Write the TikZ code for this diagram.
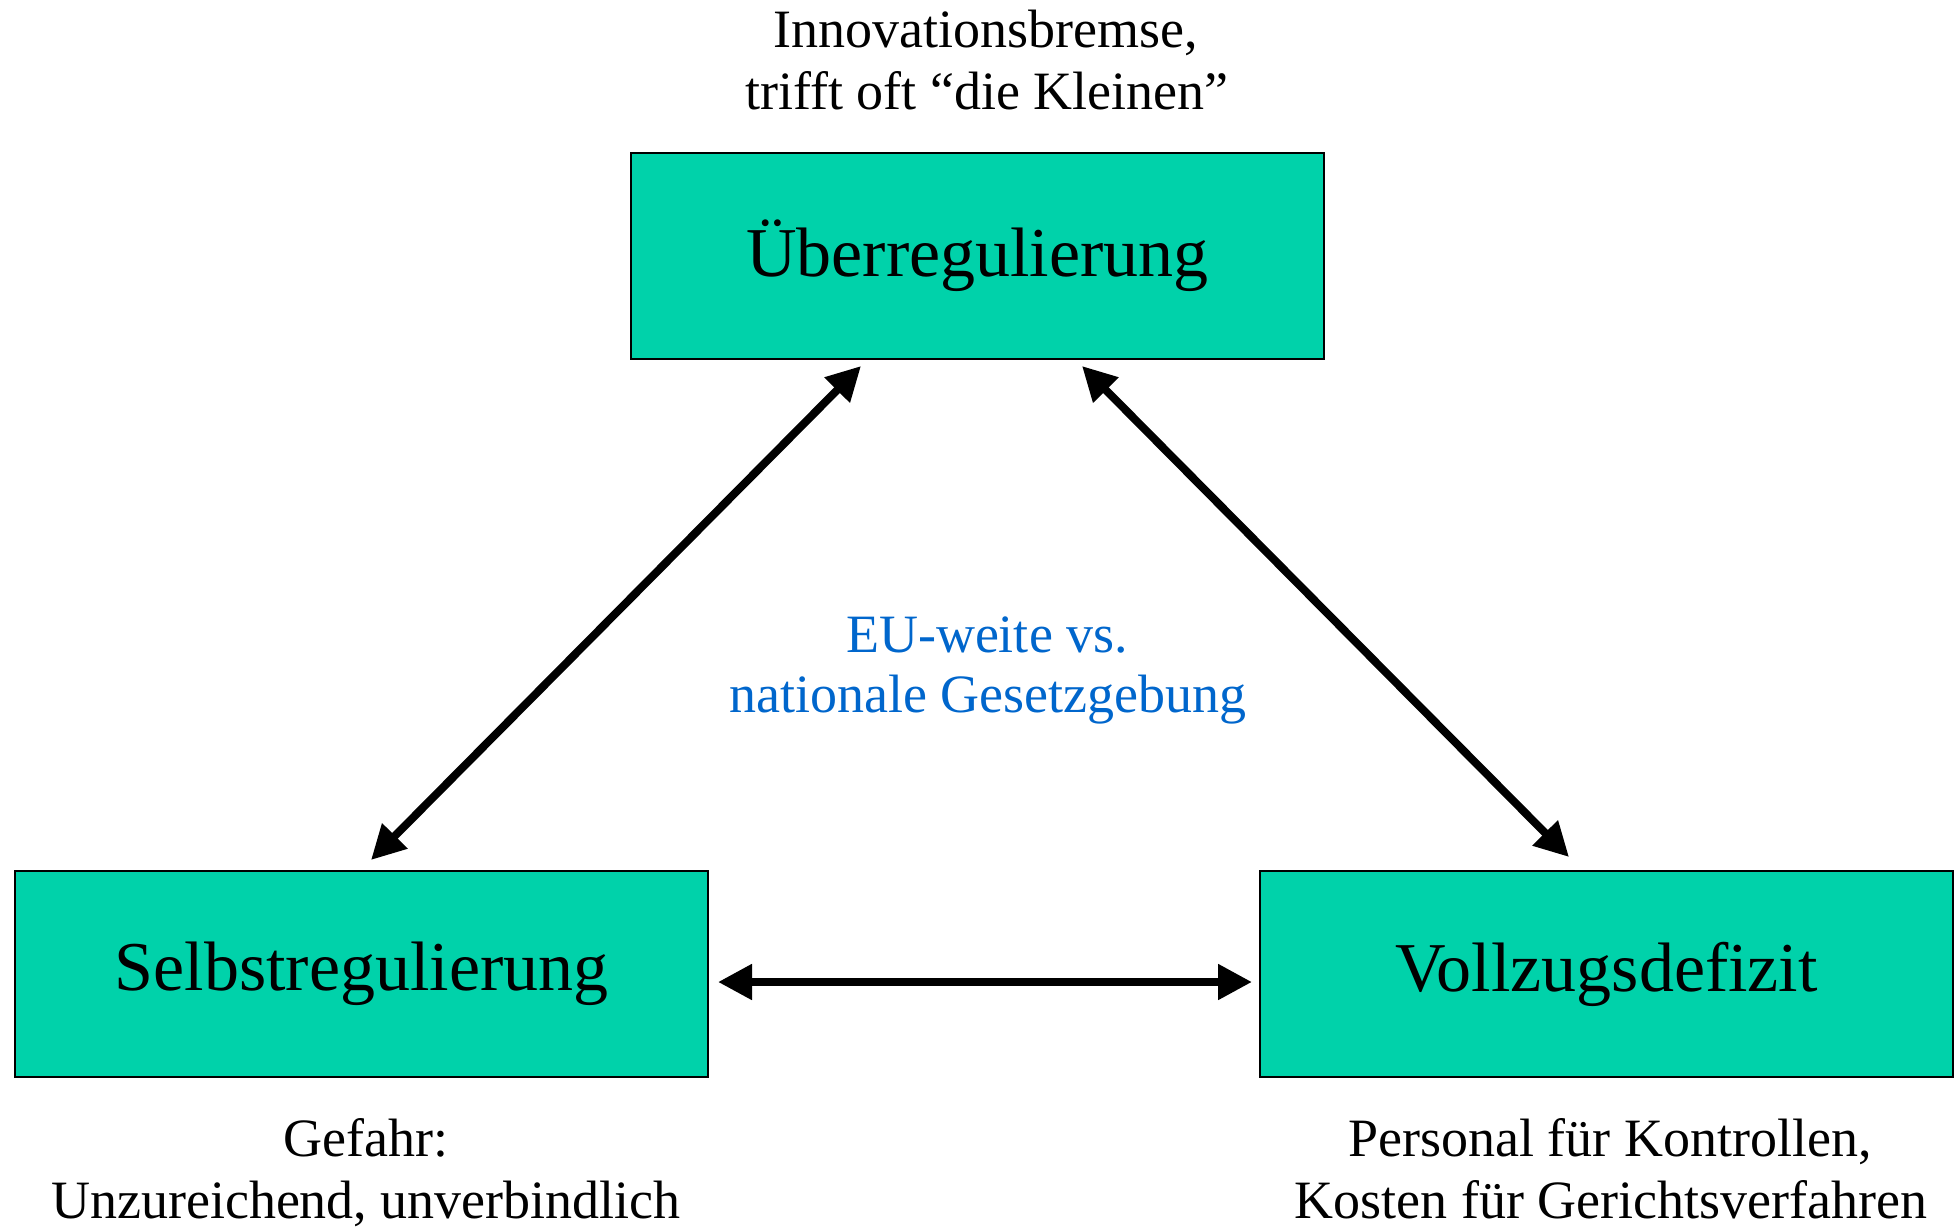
\documentclass[tikz,border=0pt]{standalone}
\usepackage{fontspec}
\setmainfont{Liberation Serif}
\usetikzlibrary{arrows.meta,calc}
\definecolor{boxfill}{RGB}{0,210,170}
\definecolor{noteblue}{RGB}{0,102,204}
\begin{document}
\begin{tikzpicture}[x=0.5pt,y=-0.5pt,
  box/.style={draw=black, line width=1pt, fill=boxfill, minimum width=346.5pt, minimum height=103pt, inner sep=0pt, outer sep=0pt, font=\fontsize{35}{42}\selectfont},
  note/.style={anchor=base, inner sep=0pt, font=\fontsize{27}{30}\selectfont},
  link/.style={line width=4pt, {Triangle[length=17pt,width=17pt]}-{Triangle[length=17pt,width=17pt]}}
]
\useasboundingbox (0,0) rectangle (1959,1226);
\node[box] (ueber) at (977.5,256) {Überregulierung};
\node[box] (selbst) at (361.5,974) {Selbstregulierung};
\node[box] (vollzug) at (1606.5,974) {Vollzugsdefizit};

\draw[link] ($(selbst.north west)+(356,-11)$) -- ($(ueber.south west)+(230,7)$);
\draw[link] ($(ueber.south east)+(-242,7)$) -- ($(vollzug.north west)+(309,-14)$);
\draw[link] ($(selbst.east)+(10,8)$) -- ($(vollzug.west)+(-8,8)$);

\node[note] (inno1) at (986,47) {Innovationsbremse,};
\node[note] (inno2) at (987,109) {trifft oft “die Kleinen”};
\node[note,text=noteblue] (eu1) at (987,652) {EU-weite vs.};
\node[note,text=noteblue] (eu2) at (988,712) {nationale Gesetzgebung};
\node[note] (gef1) at (366,1156) {Gefahr:};
\node[note] (gef2) at (366,1218) {Unzureichend, unverbindlich};
\node[note] (pers1) at (1610,1156) {Personal für Kontrollen,};
\node[note] (pers2) at (1611,1218) {Kosten für Gerichtsverfahren};
\end{tikzpicture}
\end{document}
